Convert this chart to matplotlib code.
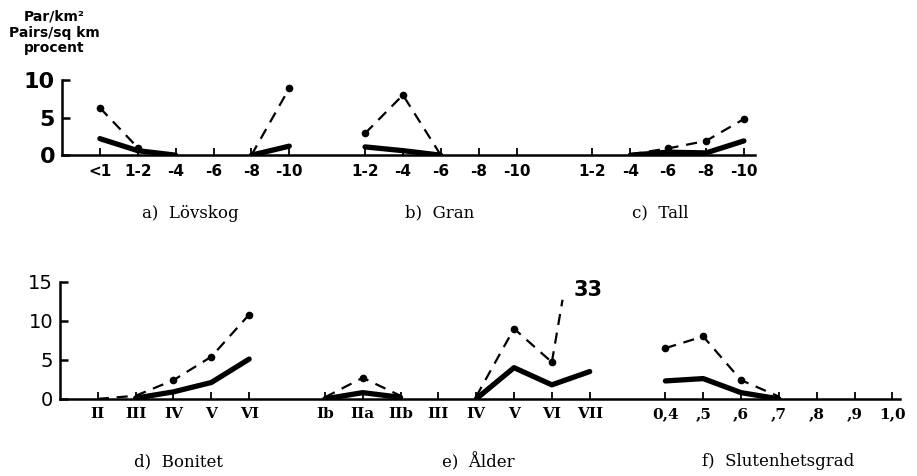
import numpy as np
import matplotlib.pyplot as plt

nan = np.nan

# top row: a) Lovskog, b) Gran, c) Tall
top_labels = [["<1", "1-2", "-4", "-6", "-8", "-10"],
              ["1-2", "-4", "-6", "-8", "-10"],
              ["1-2", "-4", "-6", "-8", "-10"]]
top_dash = [[6.3, 1.0, nan, nan, 0, 8.9],
            [2.9, 8.0, 0, nan, nan],
            [nan, 0.1, 0.9, 1.9, 4.8]]
top_solid = [[2.2, 0.6, 0, nan, 0, 1.2],
             [1.1, 0.6, 0, nan, nan],
             [nan, 0, 0.4, 0.3, 1.9]]
top_titles = ["a)  Lövskog", "b)  Gran", "c)  Tall"]

# bottom row: d) Bonitet, e) Alder, f) Slutenhetsgrad
bot_labels = [["II", "III", "IV", "V", "VI"],
              ["Ib", "IIa", "IIb", "III", "IV", "V", "VI", "VII"],
              ["0,4", ",5", ",6", ",7", ",8", ",9", "1,0"]]
bot_dash = [[0, 0.4, 2.4, 5.4, 10.8],
            [0.2, 2.7, 0.4, nan, 0.3, 9.0, 4.7, 33],
            [6.5, 8.0, 2.4, 0.3, nan, nan, nan]]
bot_solid = [[nan, 0.1, 0.9, 2.1, 5.1],
             [0, 0.8, 0.2, nan, 0, 4.0, 1.8, 3.5],
             [2.3, 2.6, 0.8, 0, nan, nan, nan]]
bot_titles = ["d)  Bonitet", "e)  Ålder", "f)  Slutenhetsgrad"]

CAP = 12.7  # where the off-scale dashed line is broken off


def positions(groups):
    out = []
    start = 1
    for g in groups:
        out.append(start + np.arange(len(g)))
        start += len(g) + 1
    return out


def draw_row(ax, labels, dash, solid, tickfont):
    pos = positions(labels)
    for p, d, s in zip(pos, dash, solid):
        d = np.array(d, float)
        s = np.array(s, float)
        ax.plot(p, s, '-', color='k', lw=3.8, solid_capstyle='round',
                solid_joinstyle='round', zorder=3)
        dd = d.copy()
        big = np.where(dd > ax.get_ylim()[1])[0]
        for i in big:
            # break the off-scale segment at CAP
            frac = (CAP - d[i - 1]) / (d[i] - d[i - 1])
            ax.plot([p[i - 1], p[i - 1] + frac], [d[i - 1], CAP], color='k',
                    lw=1.6, dashes=(5, 3.5), clip_on=False, zorder=3)
            ax.text(p[i] - 0.05, CAP + 1.3, '%d' % d[i], ha='center',
                    va='center', fontsize=15, fontweight='bold',
                    family='DejaVu Sans')
            dd[i] = nan
        ax.plot(p, dd, color='k', lw=1.6, dashes=(5, 3.5), zorder=3)
        m = dd >= 0.85
        ax.plot(p[m], dd[m], 'o', color='k', ms=4.5, zorder=4)
    allpos = np.concatenate(pos)
    ax.set_xticks(allpos)
    ax.set_xticklabels(sum(labels, []), **tickfont)
    return pos


fig = plt.figure(figsize=(9.17, 4.76), dpi=100)

ax1 = fig.add_axes([0.0676, 0.674, 0.756, 0.158])
ax1.set_xlim(0, 18.3)
ax1.set_ylim(0, 10)
pos1 = draw_row(ax1, top_labels, top_dash, top_solid,
                dict(fontsize=11, fontweight='bold', family='DejaVu Sans'))
ax1.set_yticks([0, 5, 10])
ax1.set_yticklabels(['0', '5', '10'], fontsize=16, fontweight='bold',
                    family='DejaVu Sans')

ax2 = fig.add_axes([0.0654, 0.162, 0.916, 0.246])
ax2.set_xlim(0, 22.2)
ax2.set_ylim(0, 15)
pos2 = draw_row(ax2, bot_labels, bot_dash, bot_solid,
                dict(fontsize=11, fontweight='bold', family='DejaVu Serif'))
ax2.set_yticks([0, 5, 10, 15])
ax2.set_yticklabels(['0', '5', '10', '15'], fontsize=14, family='DejaVu Sans')

for ax in (ax1, ax2):
    for side in ('top', 'right'):
        ax.spines[side].set_visible(False)
    ax.spines['left'].set_linewidth(1.8)
    ax.spines['bottom'].set_linewidth(1.8)
    ax.tick_params(axis='x', direction='in', length=5, width=1.3, pad=6)
    ax.tick_params(axis='y', direction='in', length=6, width=1.8, pad=5)

# panel captions
for ttl, cx in zip(top_titles, [190, 440, 660]):
    fig.text(cx / 917, 1 - 213 / 476, ttl, ha='center', va='center',
             fontsize=12, family='DejaVu Serif')
for ttl, cx in zip(bot_titles, [178, 478, 778]):
    fig.text(cx / 917, 1 - 462 / 476, ttl, ha='center', va='center',
             fontsize=12, family='DejaVu Serif')

# unit text
for txt, yy in zip(["Par/km²", "Pairs/sq km", "procent"], [17, 33, 48]):
    fig.text(54 / 917, 1 - yy / 476, txt, ha='center', va='center',
             fontsize=10, fontweight='bold', family='DejaVu Sans')

fig.savefig('out.png', dpi=100)
